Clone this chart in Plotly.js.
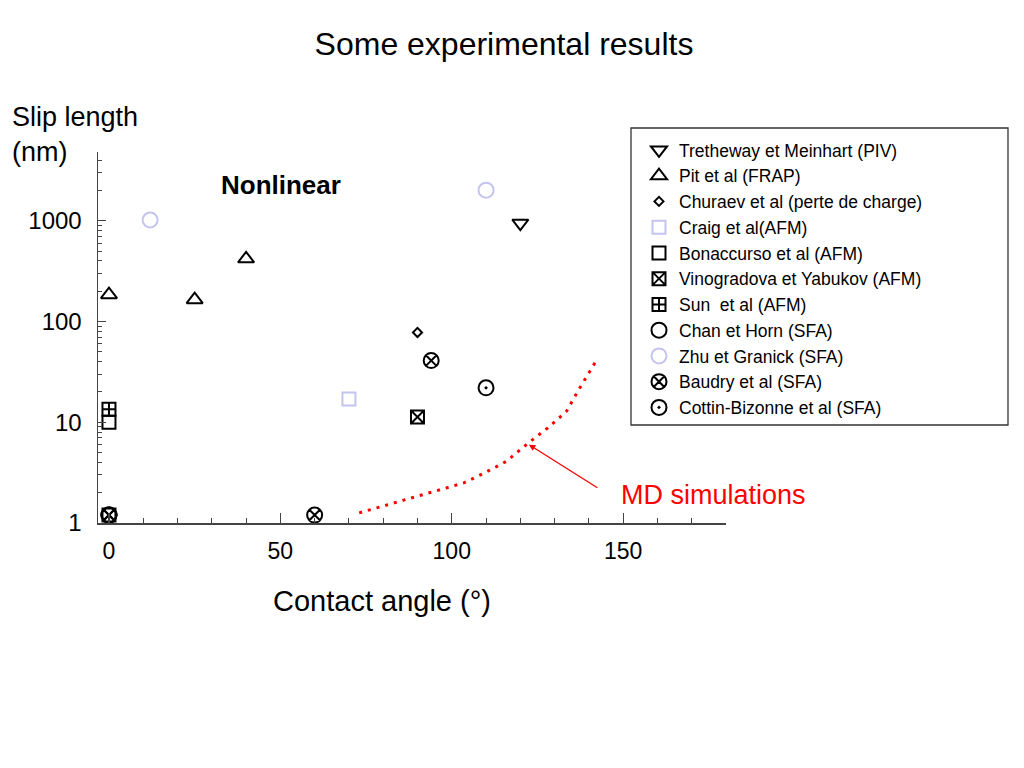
<!DOCTYPE html>
<html>
<head>
<meta charset="utf-8">
<script src="https://cdn.plot.ly/plotly-3.0.1.min.js"></script>
<style>html,body{margin:0;padding:0;background:#fff;}#chart{width:1024px;height:768px;}</style>
</head>
<body>
<div id="chart"></div>
<script>
// ---- data ----
const tretheway_x = [120];          const tretheway_y = [950];
const pit_x = [0, 25, 40];          const pit_y = [185, 165, 420];
const churaev_x = [90];             const churaev_y = [78];
const craig_x = [70];               const craig_y = [17];
const bonaccurso_x = [0];           const bonaccurso_y = [10];
const vinogradova_x = [90, 0];      const vinogradova_y = [11.3, 1.2];
const sun_x = [0];                  const sun_y = [13.5];
const chan_x = [0];                 const chan_y = [1.2];
const zhu_x = [12, 110];            const zhu_y = [1020, 2020];
const baudry_x = [94, 60, 0];       const baudry_y = [41, 1.2, 1.2];
const cottin_x = [110, 0];          const cottin_y = [22, 1.2];
const md_x = [73, 79, 85, 91, 97.5, 103.5, 109.5, 116, 122, 128, 133.5, 137, 140.5, 142.5];
const md_y = [1.26, 1.44, 1.65, 1.9, 2.18, 2.5, 3.14, 4.1, 6.1, 8.8, 12.9, 21, 33, 43];
const xTickVals = [0, 50, 100, 150];
const yTickVals = [1, 10, 100, 1000];
const yTickText = ['1', '10', '100', '1000'];

const BLACK = '#000000';
const LAV = '#c4c4ee';
const FONT = 'Liberation Sans, Arial, Helvetica, sans-serif';

function pts(name, x, y, symbol, size, color) {
  return {
    type: 'scatter', mode: 'markers', name: name, x: x, y: y,
    marker: {symbol: symbol, size: size, color: color, line: {color: color, width: 2}},
    hoverinfo: 'x+y+name'
  };
}

const traces = [
  pts('Tretheway et Meinhart (PIV)', tretheway_x, tretheway_y, 'triangle-down-open', 14, BLACK),
  pts('Pit et al (FRAP)', pit_x, pit_y, 'triangle-up-open', 14, BLACK),
  pts('Churaev et al (perte de charge)', churaev_x, churaev_y, 'diamond-open', 7, BLACK),
  pts('Craig et al(AFM)', craig_x, craig_y, 'square-open', 13, LAV),
  pts('Bonaccurso et al (AFM)', bonaccurso_x, bonaccurso_y, 'square-open', 13, BLACK),
  pts('Vinogradova et Yabukov (AFM)', vinogradova_x, vinogradova_y, 'square-x-open', 13, BLACK),
  pts('Sun  et al (AFM)', sun_x, sun_y, 'square-cross-open', 13, BLACK),
  pts('Chan et Horn (SFA)', chan_x, chan_y, 'circle-open', 15, BLACK),
  pts('Zhu et Granick (SFA)', zhu_x, zhu_y, 'circle-open', 15, LAV),
  pts('Baudry et al (SFA)', baudry_x, baudry_y, 'circle-x-open', 15, BLACK),
  pts('Cottin-Bizonne et al (SFA)', cottin_x, cottin_y, 'circle-open-dot', 15, BLACK),
  {
    type: 'scatter', mode: 'lines', name: 'MD simulations', x: md_x, y: md_y,
    line: {color: '#ff0000', width: 3, dash: '3px,6px'}, showlegend: false
  }
];

const layout = {
  width: 1024, height: 768,
  margin: {l: 98, r: 298, t: 152, b: 245, pad: 0},
  paper_bgcolor: '#ffffff', plot_bgcolor: '#ffffff',
  font: {family: FONT, color: '#000000'},
  title: {text: 'Some experimental results', font: {size: 32, family: FONT, color: '#000'},
          x: 504 / 1024, xref: 'container', xanchor: 'center', y: 0.943, yanchor: 'middle', yref: 'container'},
  showlegend: true,
  legend: {
    x: (639 - 98) / 628, xanchor: 'left', y: (523 - 132) / 371, yanchor: 'top',
    bgcolor: 'rgba(255,255,255,0)', borderwidth: 0,
    font: {size: 17.5, family: FONT, color: '#000'},
    tracegroupgap: 0, itemsizing: 'trace'
  },
  xaxis: {
    range: [-3.2, 180], showgrid: false, zeroline: false,
    showline: true, linecolor: '#444', linewidth: 1.5,
    ticks: 'inside', ticklen: 10, tickwidth: 1.2, tickcolor: '#444',
    tickvals: xTickVals, ticktext: xTickVals.map(String),
    tickfont: {size: 23, family: FONT, color: '#000'},
    ticklabelstandoff: 7,
    minor: {dtick: 10, tick0: 0, ticks: 'inside', ticklen: 5, tickwidth: 1, tickcolor: '#444', showgrid: false}
  },
  yaxis: {
    type: 'log', range: [0, 3.684], showgrid: false, zeroline: false,
    showline: true, linecolor: '#444', linewidth: 1.5,
    ticks: 'inside', ticklen: 8, tickwidth: 1.2, tickcolor: '#444',
    tickvals: yTickVals, ticktext: yTickText,
    tickfont: {size: 24, family: FONT, color: '#000'},
    ticklabelstandoff: 10,
    minor: {dtick: 'D1', ticks: 'inside', ticklen: 4, tickwidth: 1, tickcolor: '#444', showgrid: false}
  },
  shapes: [
    {type: 'rect', xref: 'paper', yref: 'paper',
     x0: (631 - 98) / 628, x1: (1008 - 98) / 628, y0: (523 - 425) / 371, y1: (523 - 128) / 371,
     line: {color: '#333', width: 1.3}, fillcolor: 'rgba(0,0,0,0)'}
  ],
  annotations: [
    {text: 'Slip length<br>(nm)', xref: 'paper', yref: 'paper', x: (10 - 98) / 628, xanchor: 'left',
     y: (523 - 134.5) / 371, yanchor: 'middle', align: 'left', showarrow: false,
     font: {size: 27, family: FONT, color: '#000'}},
    {text: 'Contact angle (°)', xref: 'paper', yref: 'paper', x: (382 - 98) / 628, xanchor: 'center',
     y: (523 - 601) / 371, yanchor: 'middle', showarrow: false,
     font: {size: 29, family: FONT, color: '#000'}},
    {text: '<b>Nonlinear</b>', xref: 'paper', yref: 'paper', x: (281 - 98) / 628, xanchor: 'center',
     y: (523 - 185) / 371, yanchor: 'middle', showarrow: false,
     font: {size: 26, family: FONT, color: '#000'}},
    {text: 'MD simulations', xref: 'paper', yref: 'paper', x: (713 - 98) / 628, xanchor: 'center',
     y: (523 - 495) / 371, yanchor: 'middle', showarrow: false,
     font: {size: 27, family: FONT, color: '#ff0000'}},
    {text: '', xref: 'x', yref: 'y', x: 122.5, y: Math.log10(6), showarrow: true,
     ax: 70, ay: 44, arrowhead: 2, arrowsize: 1, arrowwidth: 1.3, arrowcolor: '#ff0000', standoff: 0}
  ]
};

Plotly.newPlot('chart', traces, layout, {displayModeBar: false, staticPlot: true});
</script>
</body>
</html>
